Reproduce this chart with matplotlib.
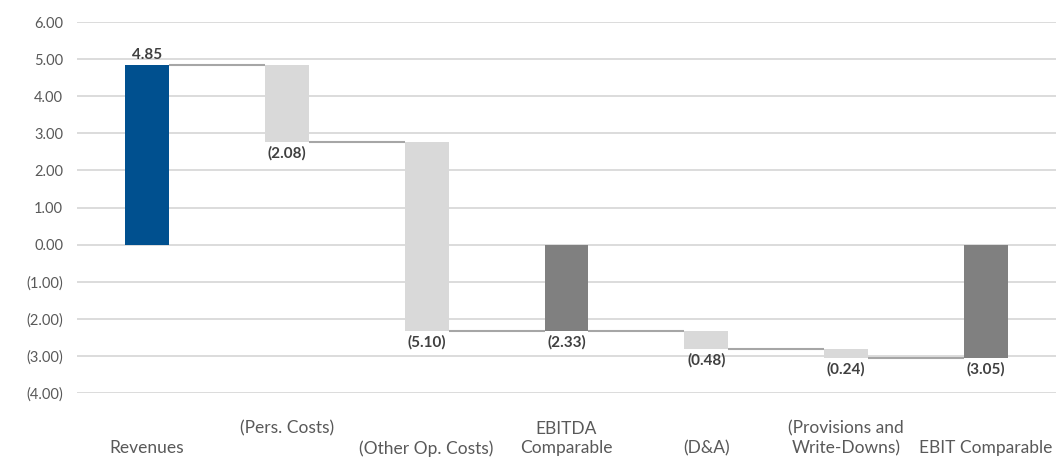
import numpy as np
import matplotlib
matplotlib.use("Agg")
import matplotlib.pyplot as plt
from matplotlib.ticker import FuncFormatter

plt.rcParams['font.family'] = ['Lato', 'DejaVu Sans']

# waterfall data
labels = ['\nRevenues', '(Pers. Costs)\n', '\n(Other Op. Costs)', 'EBITDA\nComparable',
          '\n(D&A)', '(Provisions and\nWrite-Downs)', '\nEBIT Comparable']
values = [4.85, -2.08, -5.10, -2.33, -0.48, -0.24, -3.05]
kinds = ['start', 'delta', 'delta', 'total', 'delta', 'delta', 'total']

colors = {'start': '#00508f', 'delta': '#d9d9d9', 'total': '#808080'}

fig = plt.figure(figsize=(10.56, 4.57), dpi=100)
ax = fig.add_axes([77/1056, 64/457, 1 - 77/1056, 371/457])

x = np.arange(len(values))
w = 0.314
running = 0.0
for i, (v, k) in enumerate(zip(values, kinds)):
    if k == 'delta':
        b = running
        running = running + v
    else:
        b = 0.0
        running = v
    ax.bar(x[i], v, width=w, bottom=b, color=colors[k], zorder=3)
    lo, hi = min(b, b + v), max(b, b + v)
    # value labels
    txt = '(%.2f)' % abs(v) if v < 0 else '%.2f' % v
    if v >= 0:
        ax.text(x[i], hi + 0.08, txt, ha='center', va='bottom', fontsize=11,
                fontweight='bold', color='#404040', zorder=4)
    else:
        ax.text(x[i], lo - 0.12, txt, ha='center', va='top', fontsize=11,
                fontweight='bold', color='#404040', zorder=4)
    # connector to next bar
    if i < len(values) - 1:
        ax.plot([x[i] + w / 2, x[i + 1] - w / 2], [running, running],
                color='#a6a6a6', lw=1.5, zorder=2, solid_capstyle='butt')

ax.set_xlim(-0.5, len(values) - 0.5)
ax.set_ylim(-4, 6)
ax.set_yticks(np.arange(-4, 7, 1))
ax.yaxis.set_major_formatter(FuncFormatter(
    lambda v, p: '(%.2f)' % abs(v) if v < 0 else '%.2f' % v))
ax.grid(axis='y', color='#d9d9d9', lw=1.3, zorder=0)
ax.set_xticks(x)
ax.set_xticklabels(labels, fontsize=12.5, color='#595959', linespacing=1.27)
ax.tick_params(axis='y', labelsize=10.5, labelcolor='#595959', length=0, pad=10)
ax.tick_params(axis='x', length=0, pad=20)
for s in ax.spines.values():
    s.set_visible(False)

fig.savefig('out.png', dpi=100)
